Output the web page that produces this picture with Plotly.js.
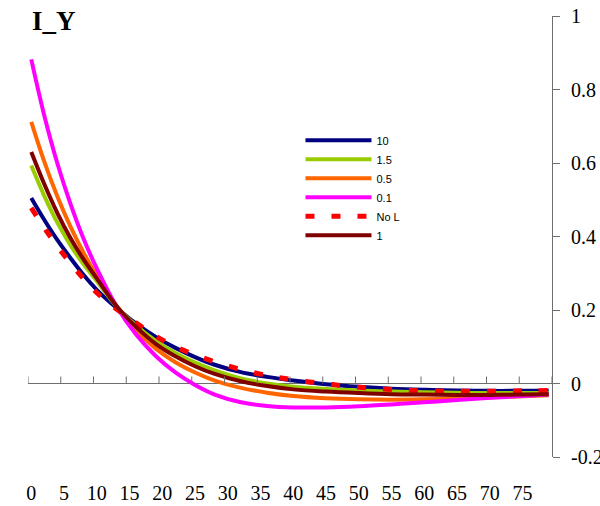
<!DOCTYPE html>
<html>
<head>
<meta charset="utf-8">
<script src="https://cdn.plot.ly/plotly-3.0.1.min.js"></script>
<style>
  html, body { margin: 0; padding: 0; background: #fff; }
  #chart { width: 600px; height: 506px; }
</style>
</head>
<body>
<div id="chart"></div>
<script>
// Horizon (periods) at which each response is sampled
const periods = [0, 2, 4, 6, 8, 10, 13, 16, 19, 22, 25, 28, 32, 36, 40, 45, 50, 55, 60, 65, 70, 75, 79];

// Responses of I to a Y shock, one series per L setting
const resp10  = [0.505, 0.445, 0.390, 0.341, 0.295, 0.255, 0.206, 0.163, 0.127, 0.097, 0.072, 0.051, 0.031, 0.018, 0.008, -0.002, -0.009, -0.014, -0.017, -0.019, -0.020, -0.020, -0.020];
const resp1_5 = [0.593, 0.510, 0.437, 0.376, 0.324, 0.279, 0.210, 0.158, 0.116, 0.083, 0.057, 0.036, 0.014, 0.000, -0.009, -0.015, -0.019, -0.022, -0.024, -0.025, -0.026, -0.026, -0.026];
const resp0_5 = [0.712, 0.603, 0.508, 0.426, 0.355, 0.293, 0.212, 0.145, 0.095, 0.058, 0.030, 0.008, -0.012, -0.025, -0.034, -0.040, -0.043, -0.044, -0.043, -0.041, -0.038, -0.035, -0.032];
const resp0_1 = [0.882, 0.728, 0.598, 0.488, 0.393, 0.313, 0.210, 0.133, 0.075, 0.030, -0.004, -0.030, -0.051, -0.061, -0.065, -0.065, -0.062, -0.057, -0.051, -0.045, -0.039, -0.034, -0.030];
const respNoL = [0.478, 0.423, 0.373, 0.327, 0.285, 0.247, 0.203, 0.165, 0.129, 0.100, 0.078, 0.059, 0.038, 0.022, 0.010, -0.001, -0.010, -0.016, -0.020, -0.021, -0.021, -0.020, -0.019];
const resp1   = [0.630, 0.542, 0.463, 0.395, 0.337, 0.286, 0.211, 0.154, 0.108, 0.074, 0.047, 0.026, 0.006, -0.007, -0.016, -0.022, -0.026, -0.029, -0.030, -0.031, -0.031, -0.030, -0.029];

const seriesNames = ['10', '1.5', '0.5', '0.1', 'No L', '1'];

// Axis labels
const xTickVals = [0, 5, 10, 15, 20, 25, 30, 35, 40, 45, 50, 55, 60, 65, 70, 75];
const xTickText = ['0', '5', '10', '15', '20', '25', '30', '35', '40', '45', '50', '55', '60', '65', '70', '75'];
const yTickVals = [-0.2, 0, 0.2, 0.4, 0.6, 0.8, 1];
const yTickText = ['-0.2', '0', '0.2', '0.4', '0.6', '0.8', '1'];

const serif = 'Liberation Serif, Times New Roman, serif';
const sans = 'Liberation Sans, Arial, sans-serif';
const axisGrey = '#6e6e6e';

const styles = [
  { color: '#000080', width: 4, dash: 'solid' },
  { color: '#99CC00', width: 4, dash: 'solid' },
  { color: '#FF6600', width: 4, dash: 'solid' },
  { color: '#FF00FF', width: 4, dash: 'solid' },
  { color: '#FF0000', width: 5, dash: '9px,17px' },
  { color: '#800000', width: 4, dash: 'solid' }
];
const values = [resp10, resp1_5, resp0_5, resp0_1, respNoL, resp1];

const traces = values.map((ys, i) => ({
  type: 'scatter',
  mode: 'lines',
  name: seriesNames[i],
  x: periods,
  y: ys,
  line: { color: styles[i].color, width: styles[i].width, dash: styles[i].dash, shape: 'spline', smoothing: 1 }
}));

// Small upward tick marks on the zero line, between category groups of five
const tickShapes = [];
for (let t = -0.5; t <= 79.5; t += 5) {
  tickShapes.push({
    type: 'line', xref: 'x', yref: 'y', ysizemode: 'pixel', yanchor: 0,
    x0: t, x1: t, y0: 0, y1: 7,
    line: { color: axisGrey, width: 1 }
  });
}

const layout = {
  width: 600,
  height: 506,
  margin: { l: 28, r: 48, t: 16, b: 49, pad: 0 },
  paper_bgcolor: '#ffffff',
  plot_bgcolor: '#ffffff',
  showlegend: true,
  title: {
    text: '<b>I_Y</b>',
    font: { family: serif, size: 27, color: '#000000' },
    xref: 'container', yref: 'container',
    x: 32 / 600, xanchor: 'left',
    y: 1 - 21 / 506, yanchor: 'middle'
  },
  xaxis: {
    range: [-0.5, 79.5],
    showline: false, showgrid: false, zeroline: false,
    tickmode: 'array', tickvals: xTickVals, ticktext: xTickText,
    ticks: '', ticklabelstandoff: 22,
    tickfont: { family: serif, size: 20, color: '#000000' },
    fixedrange: true
  },
  yaxis: {
    range: [-0.2, 1],
    side: 'right',
    showline: true, linecolor: axisGrey, linewidth: 1,
    showgrid: false,
    zeroline: true, zerolinecolor: axisGrey, zerolinewidth: 1,
    tickmode: 'array', tickvals: yTickVals, ticktext: yTickText,
    ticks: 'outside', ticklen: 7, tickcolor: axisGrey, tickwidth: 1,
    ticklabelstandoff: 7,
    tickfont: { family: serif, size: 20, color: '#000000' },
    automargin: false,
    fixedrange: true
  },
  legend: {
    x: 0.52, xanchor: 'left',
    y: 0.751, yanchor: 'top',
    bgcolor: 'rgba(0,0,0,0)', borderwidth: 0,
    itemwidth: 66,
    tracegroupgap: 0,
    font: { family: sans, size: 11, color: '#000000' }
  },
  shapes: tickShapes
};

Plotly.newPlot('chart', traces, layout, { displayModeBar: false, staticPlot: true });
</script>
</body>
</html>
